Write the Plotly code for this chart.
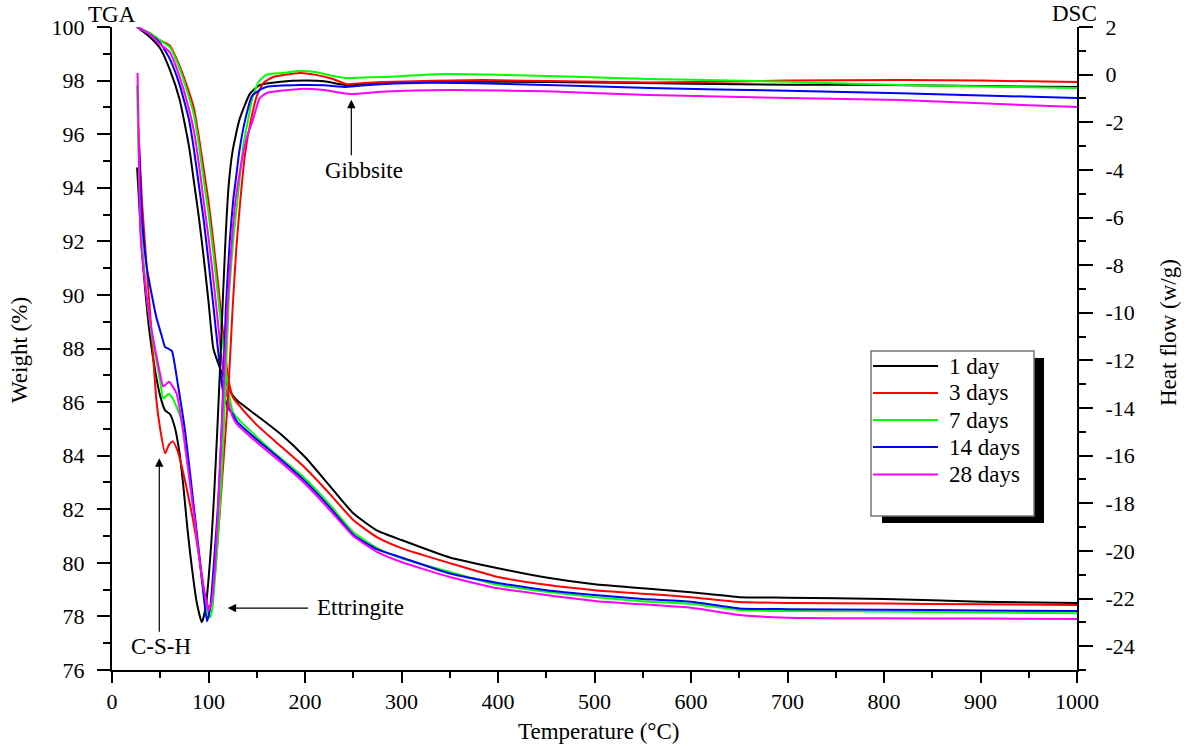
import plotly.graph_objects as go

# ---------------- data ----------------
series_names = ["1 day", "3 days", "7 days", "14 days", "28 days"]
series_colors = ["#000000", "#FF0000", "#00FF00", "#0000FF", "#FF00FF"]

# TGA (weight %, left axis) on a shared temperature grid
T_TGA = [26, 40, 50, 60, 70, 80, 85, 90, 95, 100, 105, 110, 115, 120, 125, 130, 150, 175,
         200, 225, 250, 275, 300, 350, 400, 450, 500, 550, 600, 650, 700, 800, 900, 1000]
tga_1 = [100, 99.6, 99.2, 98.4, 97.3, 95.5, 94.2, 92.9, 91.4, 89.75, 88.0, 87.45, 87.0, 86.6, 86.25, 86.05, 85.5, 84.8,
         83.95, 82.9, 81.85, 81.2, 80.85, 80.2, 79.8, 79.45, 79.2, 79.05, 78.9, 78.72, 78.7, 78.65, 78.55, 78.5]
tga_3 = [100, 99.75, 99.5, 99.3, 98.55, 97.55, 96.95, 95.9, 94.7, 93.5, 92.0, 90.4, 88.6, 87.0, 86.2, 85.95, 85.15, 84.35,
         83.55, 82.6, 81.6, 80.95, 80.55, 79.99, 79.47, 79.18, 78.98, 78.85, 78.72, 78.54, 78.5, 78.48, 78.45, 78.43]
tga_7 = [100, 99.75, 99.5, 99.25, 98.45, 97.35, 96.7, 95.6, 94.3, 93.05, 91.55, 89.9, 88.2, 86.6, 85.65, 85.4, 84.7, 83.9,
         83.15, 82.2, 81.15, 80.55, 80.17, 79.66, 79.18, 78.92, 78.72, 78.57, 78.47, 78.24, 78.2, 78.18, 78.15, 78.12]
tga_14 = [100, 99.7, 99.4, 98.8, 97.85, 96.5, 95.4, 94.1, 92.8, 91.25, 89.6, 87.9, 86.4, 85.8, 85.55, 85.25, 84.6, 83.85,
          83.05, 82.1, 81.05, 80.5, 80.2, 79.6, 79.25, 78.98, 78.8, 78.65, 78.55, 78.3, 78.27, 78.25, 78.22, 78.2]
tga_28 = [100, 99.7, 99.35, 99.05, 98.15, 96.9, 96.1, 94.9, 93.5, 92.15, 90.6, 88.9, 87.2, 86.1, 85.45, 85.15, 84.5, 83.75,
          82.95, 82.0, 81.0, 80.4, 80.03, 79.47, 79.05, 78.8, 78.58, 78.45, 78.32, 78.05, 77.95, 77.93, 77.92, 77.9]

# DSC (heat flow W/g, right axis)
T_dsc_1 = [26, 31, 35, 39, 45, 50, 55, 60, 65, 70, 74, 78, 81, 85, 88, 93, 97, 100, 103, 106, 109, 112, 115,
           118, 121, 125, 132, 143, 153, 175, 200, 220, 243, 270, 320, 400, 500, 600, 700, 800, 900, 1000]
dsc_1 = [-3.9, -7.4, -9.3, -10.85, -12.5, -13.5, -14.1, -14.25, -14.8, -15.9, -17.3, -19.0, -20.1, -21.4, -22.2, -23.0,
         -22.4, -21.2, -19.6, -17.5, -15.0, -12.3, -9.3, -6.6, -4.6, -3.2, -1.9, -0.8, -0.44, -0.3, -0.25, -0.28, -0.44,
         -0.38, -0.31, -0.3, -0.33, -0.38, -0.42, -0.44, -0.48, -0.52]
T_dsc_3 = [27, 31, 36, 41, 46, 50, 55, 59, 63, 68, 72, 77, 84, 91, 96, 101, 105, 110, 115, 120, 125, 129, 133, 138,
           144, 150, 157, 167, 177, 195, 210, 229, 243, 260, 281, 385, 557, 700, 817, 900, 1000]
dsc_3 = [-2.0, -5.3, -8.1, -10.85, -13.67, -14.9, -15.9, -15.55, -15.4, -15.8, -16.4, -17.3, -18.7, -20.4, -21.8, -22.5,
         -21.6, -19.3, -16.5, -13.7, -9.8, -7.2, -5.27, -3.3, -1.9, -0.9, -0.35, -0.1, -0.02, 0.07, 0.0, -0.18, -0.4,
         -0.35, -0.31, -0.23, -0.33, -0.25, -0.23, -0.25, -0.31]
T_dsc_7 = [26, 27.5, 29, 31, 35, 40, 45, 50, 53, 56, 59, 63, 67, 72, 77, 83, 89, 94, 98, 101.5, 104, 108, 111, 114,
           117, 121, 126, 130, 136, 141, 146, 152, 160, 177, 195, 212, 229, 243, 260, 281, 343, 400, 557, 700, 817, 1000]
dsc_7 = [-0.44, -3.3, -5.5, -7.0, -8.9, -10.6, -11.8, -12.9, -13.6, -13.5, -13.4, -13.6, -13.96, -14.5, -16.0, -17.8,
         -19.8, -21.5, -22.4, -22.8, -22.4, -20.5, -18.7, -16.5, -13.67, -9.47, -6.8, -5.27, -3.0, -1.9, -0.9, -0.3,
         0.0, 0.07, 0.15, 0.1, -0.06, -0.14, -0.12, -0.1, 0.03, 0.0, -0.18, -0.3, -0.44, -0.56]
T_dsc_14 = [28, 31, 36, 41, 46, 51, 55, 58, 62, 68, 76, 83, 90, 95, 98.5, 102, 106, 110, 114, 118, 122, 125.6, 128,
            132, 138, 145, 155, 160, 195, 220, 243, 270, 316, 400, 557, 700, 817, 1000]
dsc_14 = [-3.0, -6.0, -8.08, -9.2, -10.2, -10.9, -11.44, -11.5, -11.6, -12.95, -15.05, -17.5, -20.0, -21.9, -22.95,
          -22.3, -20.3, -18.0, -14.5, -9.8, -7.0, -5.27, -4.5, -3.2, -1.9, -0.9, -0.6, -0.52, -0.44, -0.45, -0.52,
          -0.42, -0.35, -0.38, -0.56, -0.68, -0.78, -0.98]
T_dsc_28 = [26.5, 28, 29.5, 33, 39, 45, 50, 53, 56, 59, 63, 67, 74, 80, 86, 92, 97, 100, 103, 107, 111, 115, 120, 124,
            128, 130, 135, 140, 146, 153, 160, 195, 220, 247, 280, 350, 450, 557, 700, 817, 1000]
dsc_28 = [0.07, -3.5, -6.65, -8.3, -10.2, -11.6, -12.6, -13.1, -13.0, -12.9, -13.1, -13.4, -15.05, -16.9, -18.8, -20.8,
          -22.0, -22.5, -22.2, -20.5, -17.3, -13.67, -9.47, -7.0, -5.27, -4.72, -3.5, -2.6, -1.9, -1.0, -0.78, -0.6,
          -0.65, -0.81, -0.72, -0.65, -0.7, -0.86, -0.98, -1.07, -1.36]

tga_values = [tga_1, tga_3, tga_7, tga_14, tga_28]
dsc_T = [T_dsc_1, T_dsc_3, T_dsc_7, T_dsc_14, T_dsc_28]
dsc_values = [dsc_1, dsc_3, dsc_7, dsc_14, dsc_28]

# right-axis tick labels (plain hyphen minus, as in the original)
dsc_tickvals = [-24, -22, -20, -18, -16, -14, -12, -10, -8, -6, -4, -2, 0, 2]
dsc_ticktext = [str(v) for v in dsc_tickvals]

# ---------------- figure ----------------
FONT = "Liberation Serif"
PL, PR, PT, PB = 112, 1077, 27, 670


def fx(p):
    return (p - PL) / (PR - PL)


def fy(p):
    return (PB - p) / (PB - PT)


fig = go.Figure()
for name, col, vals in zip(series_names, series_colors, tga_values):
    fig.add_trace(go.Scatter(x=T_TGA, y=vals, mode="lines", name=name, yaxis="y",
                             line=dict(color=col, width=2, shape="spline", smoothing=0.5),
                             showlegend=False))
for name, col, tt, vals in zip(series_names, series_colors, dsc_T, dsc_values):
    fig.add_trace(go.Scatter(x=tt, y=vals, mode="lines", name=name, yaxis="y2",
                             line=dict(color=col, width=2, shape="spline", smoothing=0.5),
                             showlegend=False))

axis_common = dict(showline=True, linecolor="black", linewidth=2, ticks="outside",
                   tickcolor="black", tickwidth=2, showgrid=False, zeroline=False,
                   tickfont=dict(family=FONT, size=22, color="black"))

fig.update_layout(
    width=1197, height=746,
    margin=dict(l=PL, r=1197 - PR, t=PT, b=746 - PB, pad=0),
    paper_bgcolor="white", plot_bgcolor="white",
    font=dict(family=FONT, size=22, color="black"),
    xaxis=dict(range=[0, 1000], tick0=0, dtick=100, ticklen=11, ticklabelstandoff=0,
               minor=dict(dtick=50, ticklen=6, tickwidth=2, ticks="outside", tickcolor="black"),
               **axis_common),
    yaxis=dict(range=[76, 100], tick0=76, dtick=2, ticklen=13, ticklabelstandoff=8,
               minor=dict(dtick=1, ticklen=7, tickwidth=2, ticks="outside", tickcolor="black"),
               **axis_common),
    yaxis2=dict(range=[-25, 2], tickmode="array", tickvals=dsc_tickvals, ticktext=dsc_ticktext,
                ticklen=14, ticklabelstandoff=8,
                overlaying="y", side="right", anchor="x",
                minor=dict(dtick=1, tick0=0, ticklen=7, tickwidth=2, ticks="outside", tickcolor="black"),
                **axis_common),
)

ann_font = dict(family=FONT, size=23, color="black")
annotations = [
    dict(text="Weight (%)", xref="paper", yref="paper", x=fx(20), y=fy(350), textangle=-90,
         showarrow=False, font=ann_font, xanchor="center", yanchor="middle"),
    dict(text="Heat flow (w/g)", xref="paper", yref="paper", x=fx(1168), y=fy(333), textangle=-90,
         showarrow=False, font=ann_font, xanchor="center", yanchor="middle"),
    dict(text="Temperature (°C)", xref="paper", yref="paper", x=fx(598), y=fy(731),
         showarrow=False, font=ann_font, xanchor="center", yanchor="middle"),
    dict(text="TGA", xref="paper", yref="paper", x=fx(112), y=fy(15),
         showarrow=False, font=ann_font, xanchor="center", yanchor="middle"),
    dict(text="DSC", xref="paper", yref="paper", x=fx(1074), y=fy(14),
         showarrow=False, font=ann_font, xanchor="center", yanchor="middle"),
    # arrows
    dict(text="", x=248, y=97.28, xref="x", yref="y", ax=0, ay=57, showarrow=True,
         arrowhead=2, arrowsize=1.4, arrowwidth=1.2, arrowcolor="black"),
    dict(text="Gibbsite", x=261, y=94.66, xref="x", yref="y", showarrow=False, font=ann_font,
         xanchor="center", yanchor="middle"),
    dict(text="", x=49, y=83.9, xref="x", yref="y", ax=0, ay=175, showarrow=True,
         arrowhead=2, arrowsize=1.4, arrowwidth=1.2, arrowcolor="black"),
    dict(text="C-S-H", x=50.8, y=76.86, xref="x", yref="y", showarrow=False, font=ann_font,
         xanchor="center", yanchor="middle"),
    dict(text="", x=119.9, y=78.31, xref="x", yref="y", ax=82, ay=0, showarrow=True,
         arrowhead=2, arrowsize=1.4, arrowwidth=1.2, arrowcolor="black"),
    dict(text="Ettringite", x=210.4, y=78.35, xref="x", yref="y", showarrow=False, font=ann_font,
         xanchor="left", yanchor="middle"),
]

# manual legend with drop shadow
shapes = [
    dict(type="rect", xref="paper", yref="paper", x0=fx(882), x1=fx(1044), y0=fy(523), y1=fy(358),
         fillcolor="black", line=dict(width=0), layer="above"),
    dict(type="rect", xref="paper", yref="paper", x0=fx(871), x1=fx(1034), y0=fy(516), y1=fy(351),
         fillcolor="white", line=dict(color="#777777", width=1.5), layer="above"),
]
row_y = [366, 393, 420, 447, 474.5]
for name, col, ry in zip(series_names, series_colors, row_y):
    shapes.append(dict(type="line", xref="paper", yref="paper", x0=fx(873), x1=fx(938), y0=fy(ry), y1=fy(ry),
                       line=dict(color=col, width=2), layer="above"))
    annotations.append(dict(text=name, xref="paper", yref="paper", x=fx(947), y=fy(ry), showarrow=False,
                            font=ann_font, xanchor="left", yanchor="middle"))

fig.update_layout(annotations=annotations, shapes=shapes)

fig.write_html("out.html", config={"displayModeBar": False},
               post_script="document.body.style.margin='0';")
